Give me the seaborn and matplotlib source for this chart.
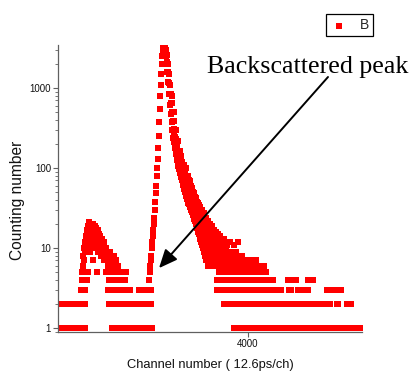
import numpy as np
import pandas as pd
import matplotlib
matplotlib.use("Agg")
import matplotlib.pyplot as plt
from matplotlib.ticker import LogLocator, FixedLocator, NullLocator, NullFormatter
import seaborn as sns

# ---------------- data (channel, counts) ----------------
# flat runs of constant counts: (first channel, last channel)
runs_1 = [(2100, 2370), (2640, 3040), (3860, 5140)]
runs_2 = [(2100, 2130), (2190, 2230), (2280, 2370), (2610, 3030), (3760, 3770),
          (3830, 4820), (4890, 4900), (4990, 5030)]
runs_3 = [(2330, 2370), (2600, 2820), (2910, 3030), (3690, 4270), (4330, 4330),
          (4410, 4430), (4500, 4600), (4790, 4930)]
runs_4 = [(2360, 2360), (2610, 2770), (3690, 4250), (4400, 4420), (4470, 4480),
          (4600, 4650)]
runs_5 = [(2620, 2780), (3710, 4170)]
run_step = 10

# first (low-energy) bump
bump_ch = [2340, 2340, 2350, 2350, 2350, 2360, 2360, 2360, 2370, 2370, 2370,
           2380, 2380, 2380, 2380, 2390, 2390, 2390, 2390, 2400, 2400, 2400, 2400,
           2410, 2410, 2410, 2410, 2420, 2420, 2420, 2420, 2430, 2430, 2430,
           2440, 2440, 2440, 2450, 2450, 2450, 2460, 2460, 2460, 2470, 2470, 2470,
           2480, 2480, 2480, 2490, 2490, 2490, 2500, 2500, 2500, 2510, 2510, 2510,
           2520, 2520, 2520, 2530, 2530, 2530, 2540, 2540, 2540, 2560, 2560, 2560,
           2580, 2580, 2580, 2580, 2600, 2600, 2600, 2620, 2620, 2620, 2640, 2640,
           2640, 2660, 2660, 2680, 2680, 2700]
bump_n = [4, 5, 5, 6, 8, 7, 10, 5, 9, 12, 11,
          10, 14, 13, 5, 15, 12, 17, 4, 19, 16, 11, 5,
          21, 18, 14, 10, 20, 17, 12, 9, 19, 15, 10,
          18, 13, 11, 16, 20, 7, 14, 17, 12, 19, 15, 11,
          18, 13, 10, 16, 12, 5, 17, 14, 9, 15, 11, 9,
          14, 11, 9, 12, 10, 8, 13, 10, 8, 12, 9, 7,
          10, 8, 7, 5, 9, 7, 6, 9, 8, 6, 8, 7,
          6, 8, 6, 7, 6, 6]

# rising edge of the main peak
rise_ch = [3010, 3010, 3020, 3020, 3030, 3030, 3040, 3040, 3050, 3050, 3060, 3060,
           3070, 3070, 3080, 3080, 3090, 3090, 3100, 3100, 3110, 3110, 3120, 3120,
           3130, 3130, 3140, 3140, 3150, 3150]
rise_n = [3, 4, 5, 6, 7, 8, 10, 12, 14, 17, 20, 24,
          30, 38, 48, 60, 80, 100, 130, 180, 250, 380, 550, 800,
          1100, 1500, 2000, 2500, 3000, 3300]

# decaying side of the main peak
decay_ch = [3160, 3160, 3170, 3170, 3170, 3180, 3180, 3180, 3190, 3190, 3190,
            3200, 3200, 3200, 3210, 3210, 3210, 3220, 3220, 3220, 3230, 3230, 3230,
            3240, 3240, 3240, 3240, 3250, 3250, 3250, 3250, 3260, 3260, 3260, 3260,
            3270, 3270, 3270, 3270, 3280, 3280, 3280, 3280, 3290, 3290, 3290, 3290,
            3300, 3300, 3300, 3300, 3310, 3310, 3310, 3320, 3320, 3320,
            3330, 3330, 3330, 3340, 3340, 3340, 3350, 3350, 3350, 3360, 3360, 3360,
            3370, 3370, 3370, 3380, 3380, 3380, 3390, 3390, 3390, 3400, 3400, 3400,
            3410, 3410, 3410, 3420, 3420, 3420, 3430, 3430, 3430, 3440, 3440, 3440,
            3450, 3450, 3450, 3460, 3460, 3460, 3470, 3470, 3470, 3480, 3480, 3480,
            3490, 3490, 3490, 3500, 3500, 3500, 3510, 3510, 3510, 3520, 3520, 3520,
            3530, 3530, 3530, 3540, 3540, 3540, 3550, 3550, 3550, 3560, 3560, 3560,
            3570, 3570, 3570, 3580, 3580, 3580, 3580, 3590, 3590, 3590,
            3600, 3600, 3600, 3600, 3610, 3610, 3610, 3610, 3620, 3620, 3620, 3620,
            3630, 3630, 3630, 3640, 3640, 3640, 3650, 3650, 3650,
            3660, 3660, 3660, 3660, 3670, 3670, 3670, 3680, 3680, 3680,
            3690, 3690, 3690, 3700, 3700, 3700, 3710, 3710, 3710, 3720, 3720,
            3730, 3730, 3730, 3740, 3740, 3750, 3750, 3750, 3760, 3760, 3770, 3770,
            3780, 3780, 3790, 3790, 3790, 3810, 3810, 3820, 3820, 3840, 3840, 3840,
            3860, 3860, 3880, 3880, 3900, 3900, 3900, 3920, 3920, 3940, 3940, 3960,
            3980, 4020, 4020, 4040, 4060, 4060, 4080, 4100, 4140, 4160, 4160, 4180]
decay_n = [3300, 3100, 3300, 3000, 2700, 3000, 2500, 2000, 2600, 2100, 1600,
           2000, 1600, 1200, 1500, 1150, 850, 1100, 850, 620, 850, 650, 480,
           650, 500, 380, 300, 500, 390, 300, 240, 390, 310, 250, 210,
           300, 245, 200, 180, 230, 190, 160, 150, 190, 160, 140, 125,
           160, 135, 115, 105, 130, 112, 98, 115, 100, 87,
           105, 90, 78, 95, 82, 70, 87, 74, 62, 78, 66, 55,
           72, 60, 50, 65, 55, 45, 60, 50, 41, 58, 46, 37,
           55, 42, 35, 52, 40, 33, 48, 37, 30, 45, 34, 28,
           42, 32, 26, 38, 29, 23, 35, 27, 22, 32, 25, 20,
           30, 23, 18, 28, 21, 16, 26, 19, 15, 25, 18, 13,
           23, 16, 12, 22, 15, 11, 21, 14, 10, 20, 13, 9,
           19, 12, 8, 18, 14, 10, 7, 17, 12, 9,
           16, 11, 8, 6, 15, 13, 10, 7, 15, 11, 8, 6,
           14, 10, 7, 13, 9, 6, 12, 10, 8,
           13, 9, 7, 6, 11, 8, 6, 12, 10, 7,
           11, 9, 6, 10, 8, 7, 12, 9, 6, 11, 8,
           10, 7, 6, 12, 9, 10, 8, 6, 11, 7, 9, 6,
           10, 8, 11, 7, 6, 9, 6, 12, 8, 9, 7, 6,
           8, 6, 9, 7, 12, 8, 6, 7, 6, 8, 6, 7,
           6, 7, 6, 7, 7, 6, 7, 6, 6, 6, 5, 5]

# high-count scatter on the upper side of the decay band
decay_hi_ch = [3240, 3260, 3280, 3300, 3320, 3330, 3340, 3350, 3360, 3370, 3380,
               3390, 3400, 3410, 3420, 3430, 3440, 3450, 3460, 3470, 3480, 3490,
               3500, 3510, 3520, 3530, 3540, 3550, 3560, 3570, 3580, 3590, 3600,
               3610, 3620, 3630, 3640, 3650, 3660, 3670, 3680, 3690, 3700, 3710,
               3720, 3740, 3760, 3780, 3800, 3860, 3900]
decay_hi_n = [800, 500, 300, 220, 165, 140, 120, 100, 110, 90, 100,
              80, 80, 70, 68, 60, 56, 50, 48, 44, 42, 38,
              37, 34, 33, 30, 30, 27, 27, 24, 24, 21, 22,
              19, 20, 17, 19, 15, 17, 14, 16, 13, 15, 12,
              14, 11, 13, 12, 12, 11, 12]

series_label = "B"
x_ticks = [4000]
y_ticks = [1, 10, 100, 1000]
y_ticklabels = ["1", "10", "100", "1000"]
x_label = "Channel number ( 12.6ps/ch)"
y_label = "Counting number"
note_text = "Backscattered peak"
note_target = (3110, 5.6)   # channel, counts of the backscattered peak foot

# ---------------- assemble ----------------
frames = []
for lvl, runs in [(1, runs_1), (2, runs_2), (3, runs_3), (4, runs_4), (5, runs_5)]:
    for a, b in runs:
        ch = np.arange(a, b + 1, run_step)
        frames.append(pd.DataFrame({"channel": ch, "counts": np.full(len(ch), lvl)}))
frames.append(pd.DataFrame({"channel": bump_ch, "counts": bump_n}))
frames.append(pd.DataFrame({"channel": rise_ch, "counts": rise_n}))
frames.append(pd.DataFrame({"channel": decay_ch, "counts": decay_n}))
frames.append(pd.DataFrame({"channel": decay_hi_ch, "counts": decay_hi_n}))
df = pd.concat(frames, ignore_index=True)

# ---------------- plot ----------------
sns.set_style("ticks")
plt.rcParams["font.family"] = ["Liberation Sans", "DejaVu Sans"]

W, H = 413, 376
fig = plt.figure(figsize=(W / 100, H / 100), dpi=100)
ax = fig.add_axes([58 / W, 1 - 332 / H, 304 / W, 287 / H])

sns.scatterplot(data=df, x="channel", y="counts", marker="s", color="#ff0000",
                s=22, linewidth=0, label=series_label, ax=ax, zorder=2)

ax.set_yscale("log")
ax.set_xlim(2100, 5140)
ax.set_ylim(0.89, 3450)

ax.xaxis.set_major_locator(FixedLocator(x_ticks))
ax.xaxis.set_minor_locator(NullLocator())
ax.set_xticklabels([str(t) for t in x_ticks])
ax.yaxis.set_major_locator(FixedLocator(y_ticks))
ax.set_yticklabels(y_ticklabels)
ax.yaxis.set_minor_locator(LogLocator(base=10, subs=np.arange(2, 10)))
ax.yaxis.set_minor_formatter(NullFormatter())

spine_col = "#606060"
for s in ["top", "right"]:
    ax.spines[s].set_visible(False)
for s in ["left", "bottom"]:
    ax.spines[s].set_color(spine_col)
    ax.spines[s].set_linewidth(0.9)
ax.tick_params(axis="both", which="major", direction="out", length=3.5, width=0.8,
               color=spine_col, labelsize=7, pad=1.5, labelcolor="#111111")
ax.tick_params(axis="y", which="minor", direction="out", length=2, width=0.6, color=spine_col)

ax.set_xlabel(x_label, fontsize=9.3, color="#111111")
ax.set_ylabel(y_label, fontsize=11.2, color="#111111")
ax.xaxis.set_label_coords(0.5, -0.095)
ax.yaxis.set_label_coords(-0.108, 0.46)

fig.text(207 / W, 1 - 73.5 / H, note_text, family=["Liberation Serif", "DejaVu Serif"],
         fontsize=18.7, ha="left", va="baseline", color="black")
ax.annotate("", xy=note_target, xycoords="data",
            xytext=(328 / W, 1 - 77 / H), textcoords="figure fraction",
            arrowprops=dict(arrowstyle="-|>,head_length=0.8,head_width=0.35",
                            color="black", lw=1.4, mutation_scale=14,
                            shrinkA=0, shrinkB=0), zorder=3)

leg = ax.legend(loc="upper right", bbox_to_anchor=(373 / W, 1 - 14 / H),
                bbox_transform=fig.transFigure, frameon=True, fancybox=False,
                edgecolor="black", framealpha=1, borderaxespad=0,
                fontsize=10, handletextpad=0.9, handlelength=1.2, borderpad=0.3,
                markerscale=1.0)
leg.get_frame().set_linewidth(0.9)

fig.savefig("out.png", dpi=100, facecolor="white")
